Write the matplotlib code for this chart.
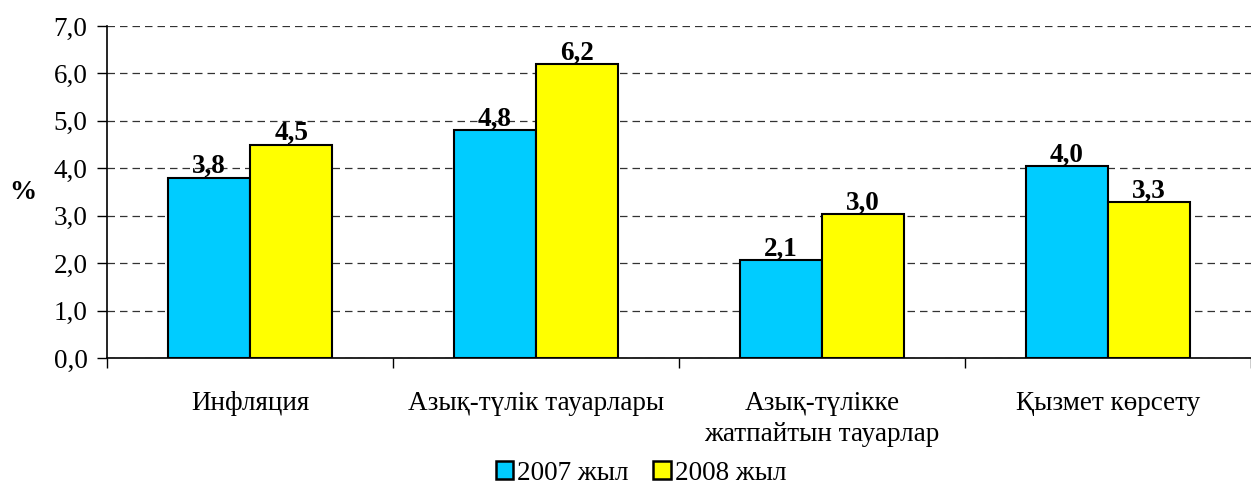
import numpy as np
import matplotlib
matplotlib.use('Agg')
import matplotlib.pyplot as plt
from matplotlib.patches import Patch

plt.rcParams['font.family'] = ['Liberation Serif', 'DejaVu Serif']

CATEGORIES = ['Инфляция', 'Азық-түлік тауарлары',
              'Азық-түлікке\nжатпайтын тауарлар', 'Қызмет көрсету']
SERIES = ['2007 жыл', '2008 жыл']
VALUES_2007 = [3.8, 4.8, 2.06, 4.04]
VALUES_2008 = [4.5, 6.2, 3.03, 3.29]
COLORS = ['#00CCFF', '#FFFF00']
Y_TICKS = [0, 1, 2, 3, 4, 5, 6, 7]

FS = 19.5


def fmt(v):
    return f'{v:.1f}'.replace('.', ',')


fig = plt.figure(figsize=(12.51, 4.87), dpi=100)
ax = fig.add_axes([0.0855, 0.265, 0.9145, 0.6815])

x = np.arange(len(CATEGORIES))
w = 0.288
for i, (vals, col) in enumerate(zip([VALUES_2007, VALUES_2008], COLORS)):
    pos = x - w / 2 + i * w
    bars = ax.bar(pos, vals, width=w, color=col, edgecolor='black',
                  linewidth=1.5, zorder=3)
    for b, v in zip(bars, vals):
        ax.annotate(fmt(v), (b.get_x() + b.get_width() / 2, v),
                    xytext=(0, -1), textcoords='offset points',
                    ha='center', va='bottom', fontsize=FS,
                    fontweight='bold', zorder=4)

ax.set_ylim(0, 7)
ax.set_xlim(-0.5, 3.472)
ax.set_yticks(Y_TICKS)
ax.set_yticklabels([fmt(t) for t in Y_TICKS], fontsize=FS)
ax.yaxis.grid(True, linestyle=(0, (6, 4)), color='#333333', linewidth=0.9)
ax.set_axisbelow(True)

# boundary ticks at group edges, labels at group centres
ax.set_xticks(np.arange(len(CATEGORIES) + 1) - 0.5)
ax.set_xticklabels([])
ax.set_xticks(x, minor=True)
ax.set_xticklabels(CATEGORIES, minor=True, fontsize=FS, linespacing=1.32)
ax.tick_params(axis='x', which='major', length=7, width=1, direction='out')
ax.tick_params(axis='x', which='minor', length=0, pad=24)
ax.tick_params(axis='y', length=7, width=1, pad=7)

for s in ['top', 'right']:
    ax.spines[s].set_visible(False)
ax.spines['left'].set_linewidth(1.2)
ax.spines['bottom'].set_linewidth(1.2)

fig.text(23 / 1251, 1 - 192 / 487, '%', fontsize=FS, fontweight='bold',
         ha='center', va='center')

handles = [Patch(facecolor=c, edgecolor='black', linewidth=1.8, label=s)
           for c, s in zip(COLORS, SERIES)]
fig.legend(handles=handles, loc='center', ncol=2, frameon=False,
           fontsize=FS, bbox_to_anchor=(641 / 1251, 1 - 473 / 487),
           handlelength=0.65, handleheight=0.65, handletextpad=0.15,
           columnspacing=0.9, borderaxespad=0, borderpad=0)

fig.savefig('out.png', dpi=100)
